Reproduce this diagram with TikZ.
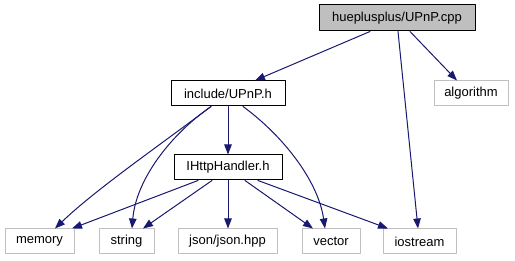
\documentclass[tikz,border=0pt]{standalone}
\usepackage{fontspec}
\setmainfont{Liberation Sans}
\usetikzlibrary{arrows.meta}
\definecolor{edgeblue}{HTML}{191970}
\definecolor{leafgray}{HTML}{BFBFBF}
\begin{document}
\begin{tikzpicture}[x=1pt, y=-1pt, line width=1pt, line cap=round, line join=round,
    font=\fontsize{13}{15}\selectfont,
    >={Triangle[length=10pt, width=7.5pt]},
    file/.style={draw=black, fill=white, minimum height=25pt, inner sep=0pt},
    leaf/.style={draw=leafgray, fill=white, minimum height=25pt, inner sep=0pt},
    dep/.style={->, draw=edgeblue}]
    
    \useasboundingbox (0,0) rectangle (515,261);

    % files of the project
    \node[file, fill=leafgray, minimum width=156pt, minimum height=26pt] (cpp) at (397,18) {hueplusplus/UPnP.cpp};
    \node[file, minimum width=114pt] (inc) at (228,93.5) {include/UPnP.h};
    \node[file, minimum width=108pt] (http) at (228,167.5) {IHttpHandler.h};

    % headers from outside
    \node[leaf, minimum width=74pt] (alg) at (471,93.5) {algorithm};
    \node[leaf, minimum width=69pt] (mem) at (39.5,241.5) {memory};
    \node[leaf, minimum width=55pt] (str) at (126.5,241.5) {string};
    \node[leaf, minimum width=99pt] (json) at (227.5,241.5) {json/json.hpp};
    \node[leaf, minimum width=58pt] (vec) at (331,241.5) {vector};
    \node[leaf, minimum width=73pt] (ios) at (419.5,241.5) {iostream};

    % includes of UPnP.cpp
    \draw[dep] ([xshift=-27pt]cpp.south) -- ([xshift=27pt]inc.north);
    \draw[dep] ([xshift=1pt]cpp.south) -- ([xshift=-1.5pt]ios.north);
    \draw[dep] ([xshift=13pt]cpp.south) -- ([xshift=-14pt]alg.north);

    % includes of UPnP.h
    \draw[dep] ([xshift=-17pt]inc.south) .. controls (160,145) and (95,190) .. ([xshift=15.5pt]mem.north);
    \draw[dep] ([xshift=-17pt]inc.south) .. controls (170,135) and (136,180) .. ([xshift=5.5pt]str.north);
    \draw[dep] (inc.south) -- (http.north);
    \draw[dep] ([xshift=15pt]inc.south) .. controls (282,135) and (318,180) .. ([xshift=-6pt]vec.north);

    % includes of IHttpHandler.h
    \draw[dep] ([xshift=-30pt]http.south) -- ([xshift=32.5pt]mem.north);
    \draw[dep] ([xshift=-16pt]http.south) -- ([xshift=16.5pt]str.north);
    \draw[dep] (http.south) -- ([xshift=0.5pt]json.north);
    \draw[dep] ([xshift=17pt]http.south) -- ([xshift=-18pt]vec.north);
    \draw[dep] ([xshift=30pt]http.south) -- ([xshift=-31.5pt]ios.north);
\end{tikzpicture}
\end{document}
